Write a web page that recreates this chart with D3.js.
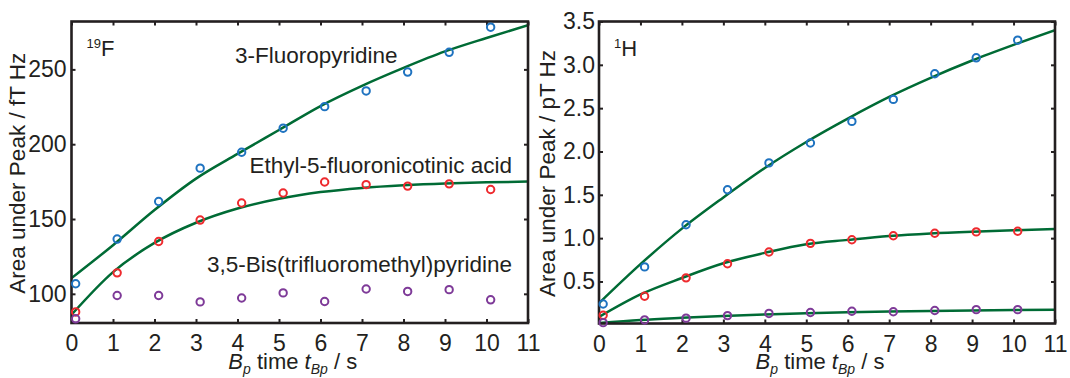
<!DOCTYPE html>
<html>
<head>
<meta charset="utf-8">
<script src="https://cdn.jsdelivr.net/npm/d3@7"></script>
<style>
  html, body { margin: 0; padding: 0; background: #fff; }
  svg { display: block; }
  text { font-family: "Liberation Sans", Arial, Helvetica, sans-serif; fill: #231f20; }
</style>
</head>
<body>
<svg id="chart" width="1070" height="378"></svg>
<script>
// ---------- data ----------
const measTimes = [0.1, 1.1, 2.1, 3.1, 4.1, 5.1, 6.1, 7.1, 8.1, 9.1, 10.1];
const fitTimes  = [0, 1, 2, 3, 4, 5, 6, 7, 8, 9, 10, 11];

// 19F panel (fT Hz)
const f19_fluoropyridine = [106.7, 136.6, 161.7, 184.0, 194.6, 210.7, 225.1, 235.6, 248.2, 261.4, 278.2];
const f19_ethylFluoronic = [87.9, 114.0, 135.0, 149.3, 160.7, 167.4, 174.7, 173.0, 172.0, 173.5, 169.7];
const f19_bisCF3pyridine = [83.3, 98.9, 98.9, 94.6, 97.2, 100.6, 94.9, 103.2, 101.6, 102.8, 96.0];
const f19_fitFluoropyridine = [110.5, 132.5, 156, 177, 193.5, 209.5, 225.5, 239, 251, 262, 271, 279.5];
const f19_fitEthylFluoronic = [86, 114.5, 134, 147.5, 157, 163.5, 168, 170.8, 172.6, 173.8, 174.5, 175];

// 1H panel (pT Hz)
const h1_fluoropyridine = [0.24, 0.668, 1.155, 1.559, 1.868, 2.098, 2.347, 2.601, 2.897, 3.081, 3.285];
const h1_ethylFluoronic = [0.11, 0.329, 0.542, 0.705, 0.84, 0.94, 0.982, 1.028, 1.057, 1.072, 1.08];
const h1_bisCF3pyridine = [0.025, 0.056, 0.077, 0.106, 0.131, 0.142, 0.156, 0.15, 0.165, 0.175, 0.175];
const h1_fitFluoropyridine = [0.25, 0.70, 1.11, 1.47, 1.81, 2.11, 2.38, 2.63, 2.85, 3.05, 3.23, 3.40];
const h1_fitEthylFluoronic = [0.09, 0.35, 0.54, 0.71, 0.83, 0.93, 0.98, 1.025, 1.055, 1.075, 1.09, 1.105];
const h1_fitBisCF3pyridine = [0.02, 0.055, 0.08, 0.102, 0.12, 0.134, 0.145, 0.153, 0.16, 0.166, 0.171, 0.175];

const xTicks = [0, 1, 2, 3, 4, 5, 6, 7, 8, 9, 10, 11];
const f19_yTicks = [100, 150, 200, 250];
const h1_yTicks = [0.5, 1.0, 1.5, 2.0, 2.5, 3.0, 3.5];

const compoundNames = ["3-Fluoropyridine", "Ethyl-5-fluoronicotinic acid", "3,5-Bis(trifluoromethyl)pyridine"];
const yTitles = ["Area under Peak / fT Hz", "Area under Peak / pT Hz"];

// ---------- styling ----------
const COL_BLUE = "#1f73c0";
const COL_RED = "#ee2a2e";
const COL_PURPLE = "#7e3a98";
const COL_FIT = "#006b35";
const INK = "#231f20";

const svg = d3.select("#chart");

function panel(cfg) {
  const x = d3.scaleLinear().domain([0, 11]).range([cfg.x0, cfg.x1]);
  const y = d3.scaleLinear().domain(cfg.yDomain).range([cfg.yb, cfg.yt]);
  const g = svg.append("g");

  const clipId = "clip" + cfg.id;
  svg.append("clipPath").attr("id", clipId)
    .append("rect")
    .attr("x", x.range()[0]).attr("y", y.range()[1])
    .attr("width", x.range()[1] - x.range()[0])
    .attr("height", y.range()[0] - y.range()[1]);

  // axes with inward ticks
  const styleAxis = sel => {
    sel.select(".domain").remove();
    sel.selectAll(".tick line").attr("stroke", INK).attr("stroke-width", 2);
    sel.selectAll(".tick text").attr("font-size", 23).attr("fill", INK)
      .style("font-family", '"Liberation Sans", Arial, sans-serif');
  };
  g.append("g").attr("transform", `translate(0,${cfg.yb})`)
    .call(d3.axisBottom(x).tickValues(xTicks).tickFormat(d3.format("d")).tickSizeInner(-4).tickSizeOuter(0).tickPadding(12))
    .call(styleAxis);
  g.append("g").attr("transform", `translate(0,${cfg.yt})`)
    .call(d3.axisTop(x).tickValues(xTicks).tickFormat("").tickSizeInner(-4).tickSizeOuter(0))
    .call(styleAxis);
  g.append("g").attr("transform", `translate(${cfg.x0},0)`)
    .call(d3.axisLeft(y).tickValues(cfg.yTicks).tickFormat(cfg.yFormat).tickSizeInner(-4).tickSizeOuter(0).tickPadding(cfg.yPad))
    .call(styleAxis);
  g.append("g").attr("transform", `translate(${cfg.x1},0)`)
    .call(d3.axisRight(y).tickValues(cfg.yTicks).tickFormat("").tickSizeInner(-4).tickSizeOuter(0))
    .call(styleAxis);

  // fit curves
  const line = d3.line().x((d, i) => x(fitTimes[i])).y(d => y(d)).curve(d3.curveMonotoneX);
  cfg.fits.forEach(f => {
    g.append("path").attr("d", line(f)).attr("fill", "none")
      .attr("stroke", COL_FIT).attr("stroke-width", 2.5)
      .attr("clip-path", `url(#${clipId})`);
  });

  // frame
  g.append("rect")
    .attr("x", cfg.x0).attr("y", cfg.yt)
    .attr("width", cfg.x1 - cfg.x0).attr("height", cfg.yb - cfg.yt)
    .attr("fill", "none").attr("stroke", INK).attr("stroke-width", 2.6);

  // measured points
  cfg.series.forEach(s => {
    g.append("g").selectAll("circle").data(s.values).join("circle")
      .attr("cx", (d, i) => x(measTimes[i])).attr("cy", d => y(d))
      .attr("r", 3.7).attr("fill", "none")
      .attr("stroke", s.color).attr("stroke-width", 2);
  });

  // y title
  g.append("text")
    .attr("transform", `translate(${cfg.yTitleX},${(cfg.yt + cfg.yb) / 2 + 1}) rotate(-90)`)
    .attr("text-anchor", "middle").attr("font-size", 22.5)
    .text(cfg.yTitle);

  // x title
  const xt = g.append("text")
    .attr("x", (cfg.x0 + cfg.x1) / 2 - 7).attr("y", 369)
    .attr("text-anchor", "middle").attr("font-size", 22);
  xt.append("tspan").attr("font-style", "italic").text("B");
  xt.append("tspan").attr("font-style", "italic").attr("font-size", 14).attr("dy", 5).text("p");
  xt.append("tspan").attr("dy", -5).text(" time ");
  xt.append("tspan").attr("font-style", "italic").text("t");
  xt.append("tspan").attr("font-style", "italic").attr("font-size", 14).attr("dy", 5).text("Bp");
  xt.append("tspan").attr("dy", -5).text(" / s");

  // nucleus label
  const nl = g.append("text").attr("x", cfg.x0 + 15).attr("y", 56).attr("font-size", 22);
  nl.append("tspan").attr("font-size", 13).attr("dy", -8).text(cfg.isoMass);
  nl.append("tspan").attr("dy", 8).text(cfg.isoSym);

  return { g, x, y };
}

const left = panel({
  id: "F", x0: 71.5, x1: 528, yt: 21.5, yb: 323,
  yDomain: [80.5, 282], yTicks: f19_yTicks, yFormat: d3.format("d"), yPad: 5,
  yTitle: yTitles[0], yTitleX: 25,
  isoMass: "19", isoSym: "F",
  fits: [f19_fitFluoropyridine, f19_fitEthylFluoronic],
  series: [
    { values: f19_fluoropyridine, color: COL_BLUE },
    { values: f19_ethylFluoronic, color: COL_RED },
    { values: f19_bisCF3pyridine, color: COL_PURPLE }
  ]
});

panel({
  id: "H", x0: 599, x1: 1055, yt: 21.5, yb: 323.5,
  yDomain: [0.015, 3.5], yTicks: h1_yTicks, yFormat: d3.format(".1f"), yPad: 4,
  yTitle: yTitles[1], yTitleX: 555,
  isoMass: "1", isoSym: "H",
  fits: [h1_fitFluoropyridine, h1_fitEthylFluoronic, h1_fitBisCF3pyridine],
  series: [
    { values: h1_fluoropyridine, color: COL_BLUE },
    { values: h1_ethylFluoronic, color: COL_RED },
    { values: h1_bisCF3pyridine, color: COL_PURPLE }
  ]
});

// compound labels on the 19F panel
left.g.append("text").attr("x", 235).attr("y", 63).attr("font-size", 22.5).text(compoundNames[0]);
left.g.append("text").attr("x", 512).attr("y", 172.5).attr("text-anchor", "end").attr("font-size", 22.5).text(compoundNames[1]);
left.g.append("text").attr("x", 512).attr("y", 271.5).attr("text-anchor", "end").attr("font-size", 22.5).text(compoundNames[2]);
</script>
</body>
</html>
